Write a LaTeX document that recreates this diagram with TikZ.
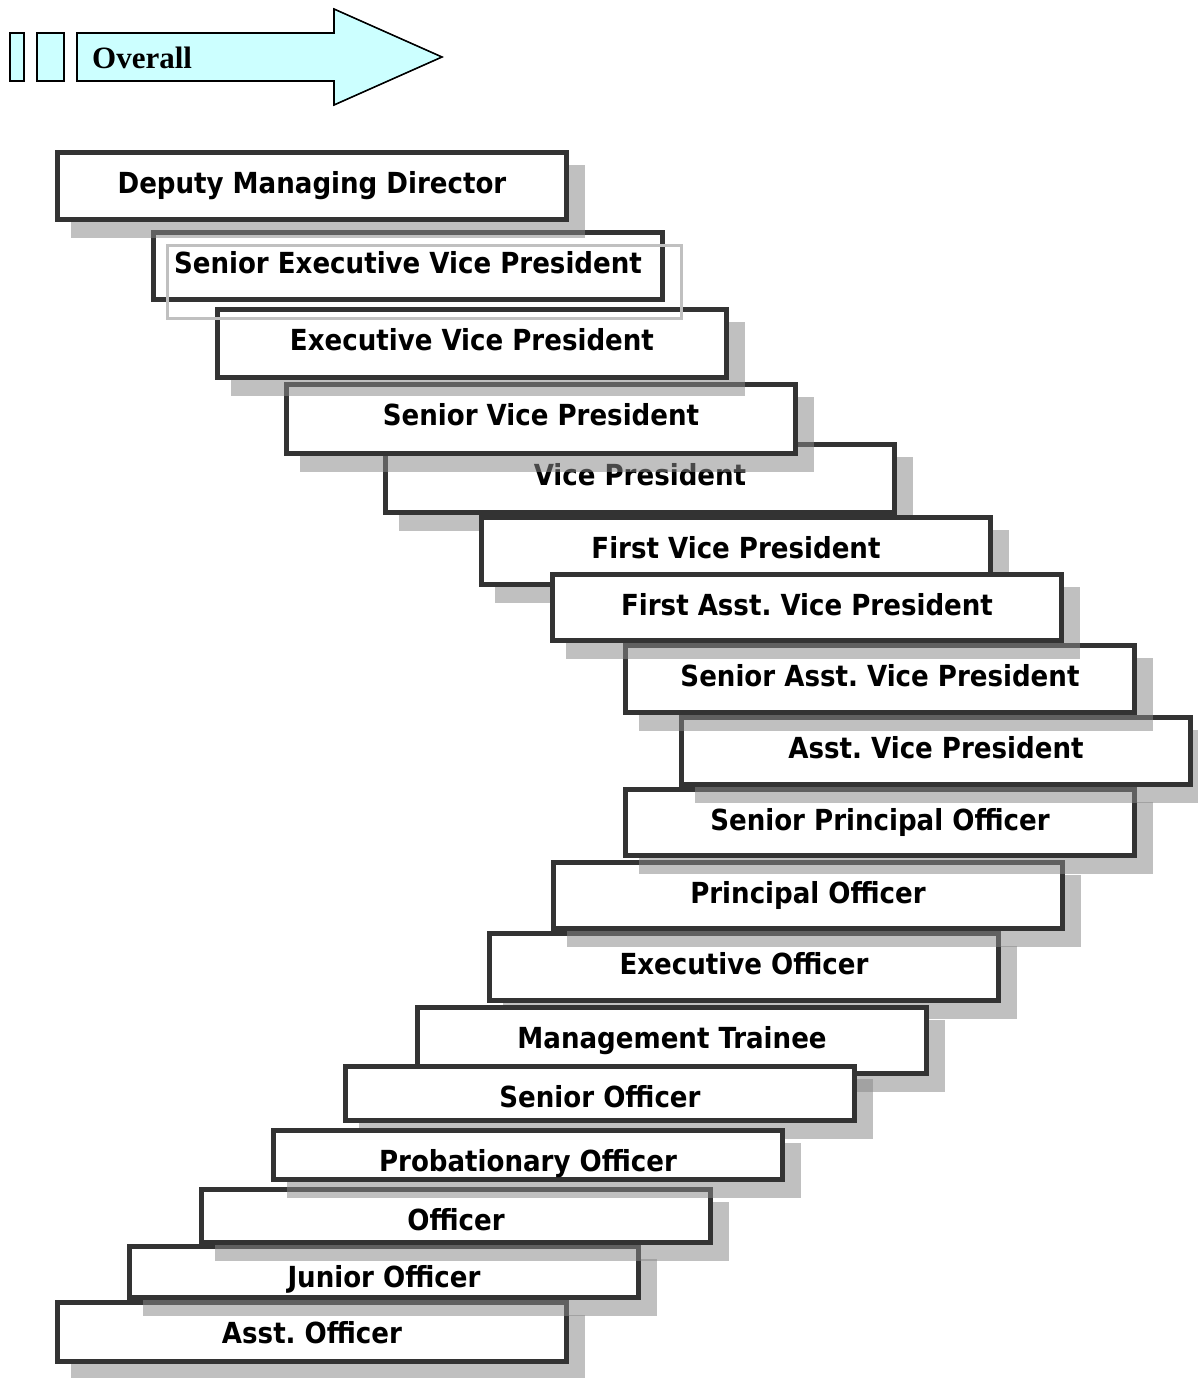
\documentclass[tikz,border=0pt]{standalone}
\usepackage{fontspec}
\usepackage{tikz}
\newfontfamily\rankfont{DejaVu Sans Condensed}
\newfontfamily\titlefont{Liberation Serif}
\definecolor{rankline}{RGB}{51,51,51}
\definecolor{shadegray}{RGB}{136,136,136}
\definecolor{shadeedge}{RGB}{192,192,192}
\definecolor{arrowfill}{RGB}{204,255,255}
\frenchspacing

\begin{document}
\begin{tikzpicture}[
  x=1pt, y=-1pt,
  rank/.style={draw=rankline, line width=5pt, fill=white, minimum width=509pt, anchor=north west, inner sep=0pt, outer sep=0pt},
  ranktext/.style={anchor=base, inner sep=0pt, font=\rankfont\bfseries\fontsize{29}{34}\selectfont},
  rankshadow/.style={fill=shadegray, fill opacity=0.53},
  noshadow/.style={},
  edgeshadow/.style={draw=shadeedge, line width=3pt},
  arrowbox/.style={draw=black, line width=1.6pt, fill=arrowfill},
]
\useasboundingbox (0,0) rectangle (1197,1378);

% the "Overall" arrow
\draw[arrowbox] (10,33) rectangle (24,81);
\draw[arrowbox] (37,33) rectangle (64,81);
\draw[arrowbox] (77,33) -- (334,33) -- (334,9) -- (442,57) -- (334,105) -- (334,81) -- (77,81) -- cycle;
\node[anchor=base west, inner sep=0pt, font=\titlefont\bfseries\fontsize{31}{36}\selectfont] (overall) at (92,69) {Overall};

% ranks, in stacking order
\foreach \nm/\lx/\ty/\by/\sh/\txt in {
  eo/487/931/1003/rankshadow/Executive Officer,
  po/551/860/931/rankshadow/Principal Officer,
  spo/623/787/858/rankshadow/Senior Principal Officer,
  avp/679/715/787/rankshadow/Asst. Vice President,
  savp/623/643/715/rankshadow/Senior Asst. Vice President,
  mt/415/1005/1076/rankshadow/Management Trainee,
  so/343/1064/1123/rankshadow/Senior Officer,
  ao/55/1300/1364/rankshadow/Asst. Officer,
  jo/127/1244/1300/rankshadow/Junior Officer,
  off/199/1187/1245/rankshadow/Officer,
  prob/271/1128/1182/rankshadow/Probationary Officer,
  vp/383/442/515/rankshadow/Vice President,
  svp/284/382/456/rankshadow/Senior Vice President,
  evp/215/307/380/rankshadow/Executive Vice President,
  sevp/151/230/302/noshadow/Senior Executive Vice President,
  dmd/55/150/222/rankshadow/Deputy Managing Director,
  fvp/479/515/587/rankshadow/First Vice President,
  favp/550/572/643/rankshadow/First Asst. Vice President}{
  \path[\sh] (\lx+16,\ty+15) rectangle (\lx+530,\by+16);
  \node[rank, minimum height={\by-\ty-5}] (\nm) at (\lx+2.5,\ty+2.5) {};
  \node[ranktext] (\nm-t) at (\lx+257,\ty+43) {\txt};
}

% outline shadow of the second rank
\draw[edgeshadow] ([shift={(14,13)}]sevp.north west) rectangle ([shift={(19,18.5)}]sevp.south east);
\end{tikzpicture}
\end{document}
